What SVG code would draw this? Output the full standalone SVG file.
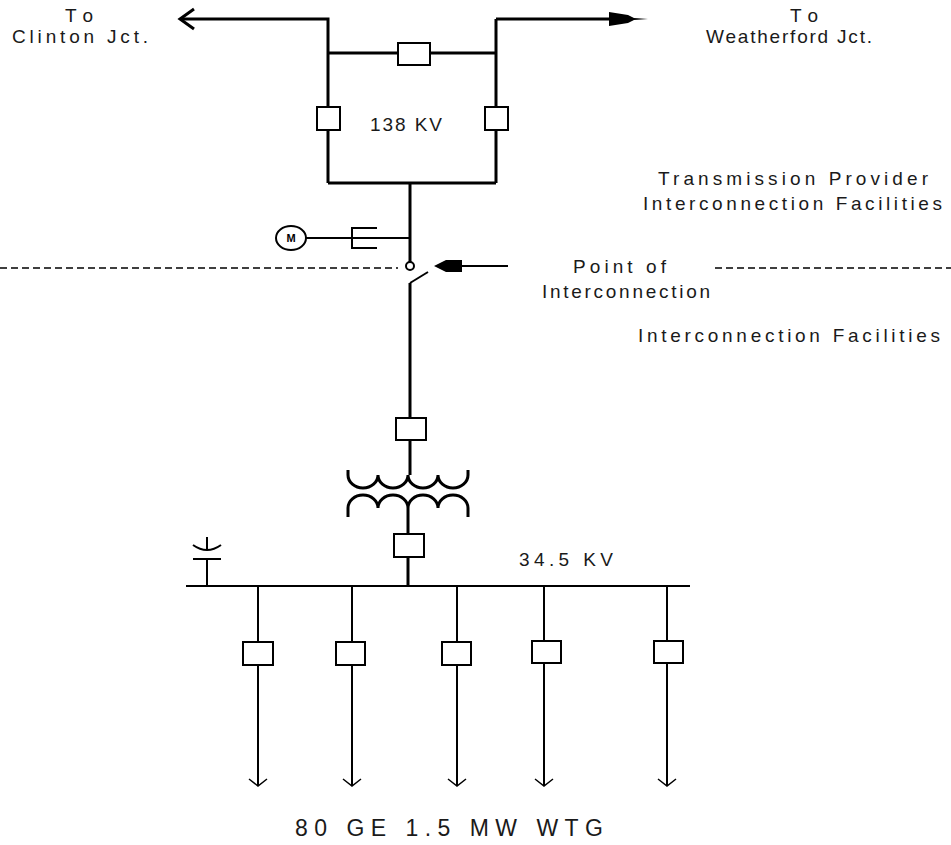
<svg xmlns="http://www.w3.org/2000/svg" width="951" height="845" viewBox="0 0 951 845">
<style>
.t{font-family:"Liberation Sans",Arial,sans-serif;fill:#1a1a1a;font-size:19px}
.big{font-size:23px}
.w3{stroke:#000;stroke-width:3;fill:none}
.w2{stroke:#000;stroke-width:2;fill:none}
.box{stroke:#000;stroke-width:2;fill:#fff}
.dash{stroke:#000;stroke-width:1.5;stroke-dasharray:7 4;fill:none}
</style>
<rect width="951" height="845" fill="#fff"/>
<g id="connectors">
  <path class="w3" d="M180,19 H328 V183 M496,19 V183 M328,183 H496 M328,53 H496 M496,19 H612"/>
  <path class="w3" d="M194,9 L180,19 L194,29"/>
  <polygon points="609,12 628,15 634,18 648,19 634,20 628,23 609,26" fill="#000"/>
  <path class="w3" d="M410,183 V262"/>
  <path class="w2" d="M306,238 H410"/>
  <path class="w2" d="M377,228 H352 V248 H377"/>
  <path class="dash" d="M0,268 H398 M715,268 H951"/>
  <circle cx="410" cy="266" r="4" class="box"/>
  <path class="w2" d="M462,266 H508"/>
  <polygon points="434,266 446,260 462,260 462,272 446,272" fill="#000"/>
  <path class="w2" d="M410,283 L428,272"/>
  <path class="w3" d="M410,283 V475"/>
  <path class="w3" d="M348,470 V475 A15,13 0 0 0 378,475 A15,13 0 0 0 408,475 A15,13 0 0 0 438,475 A15,13 0 0 0 468,475 V470"/>
  <path class="w3" d="M348,517 V508 A15,13 0 0 1 378,508 A15,13 0 0 1 408,508 A15,13 0 0 1 438,508 A15,13 0 0 1 468,508 V517"/>
  <path class="w3" d="M408,508 V586"/>
  <path class="w2" d="M186,586 H690"/>
  <path class="w2" d="M207,537 V550 M207,559 V586 M193,559 H221"/>
  <path class="w2" d="M193,545 Q207,555 221,545"/>
  <path class="w2" d="M258,586 V786 M352,586 V786 M457,586 V786 M544,586 V786 M667,586 V786"/>
  <path stroke="#000" stroke-width="1.5" fill="none" d="M249,779 L258,786 L267,779 M343,779 L352,786 L361,779 M448,779 L457,786 L466,779 M535,779 L544,786 L553,779 M658,779 L667,786 L676,779"/>
</g>
<g id="cb-top"><rect class="box" x="398" y="43" width="32" height="22"/></g>
<g id="cb-left"><rect class="box" x="317" y="107" width="23" height="23"/></g>
<g id="cb-right"><rect class="box" x="485" y="107" width="23" height="23"/></g>
<g id="meter"><ellipse cx="291" cy="238" rx="15" ry="12" class="w2" fill="#fff"/><text x="291" y="242" text-anchor="middle" style="font-family:'Liberation Sans',sans-serif;font-size:11px;font-weight:bold">M</text></g>
<g id="cb-hv"><rect class="box" x="396" y="418" width="30" height="22"/></g>
<g id="cb-lv"><rect class="box" x="394" y="534" width="30" height="23"/></g>
<g id="feeder-breakers">
  <rect class="box" x="243" y="642" width="30" height="23"/>
  <rect class="box" x="336" y="642" width="29" height="23"/>
  <rect class="box" x="442" y="642" width="29" height="23"/>
  <rect class="box" x="532" y="641" width="29" height="22"/>
  <rect class="box" x="654" y="641" width="29" height="22"/>
</g>
<g id="labels">
  <text class="t" x="65" y="22" textLength="28" lengthAdjust="spacing">To</text>
  <text class="t" x="12" y="43" textLength="136" lengthAdjust="spacing">Clinton Jct.</text>
  <text class="t" x="790" y="22" textLength="28" lengthAdjust="spacing">To</text>
  <text class="t" x="706" y="43" textLength="166" lengthAdjust="spacing">Weatherford Jct.</text>
  <text class="t" x="370" y="131" textLength="72" lengthAdjust="spacing">138 KV</text>
  <text class="t" x="658" y="185" textLength="270" lengthAdjust="spacing">Transmission Provider</text>
  <text class="t" x="643" y="210" textLength="299" lengthAdjust="spacing">Interconnection Facilities</text>
  <text class="t" x="573" y="273" textLength="93" lengthAdjust="spacing">Point of</text>
  <text class="t" x="542" y="298" textLength="168" lengthAdjust="spacing">Interconnection</text>
  <text class="t" x="638" y="342" textLength="302" lengthAdjust="spacing">Interconnection Facilities</text>
  <text class="t" x="519" y="566" textLength="94" lengthAdjust="spacing">34.5 KV</text>
  <text class="t big" x="295" y="836" textLength="308" lengthAdjust="spacing">80 GE 1.5 MW WTG</text>
</g>
</svg>
